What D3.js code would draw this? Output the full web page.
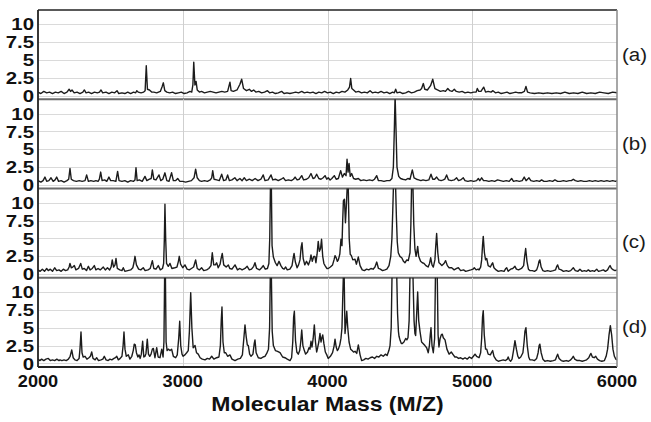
<!DOCTYPE html>
<html>
<head>
<meta charset="utf-8">
<script src="https://cdn.jsdelivr.net/npm/d3@7"></script>
<style>
  body { margin: 0; background: #fff; }
  svg { display: block; }
</style>
</head>
<body>
<div id="chart"></div>
<script>
// tick values / labels
const xTicks = [2000, 3000, 4000, 5000, 6000];
const yTicks = [0, 2.5, 5, 7.5, 10];
const yTickLabels = ["0", "2.5", "5", "7.5", "10"];
const panelLabels = ["(a)", "(b)", "(c)", "(d)"];
const xTitle = "Molecular Mass (M/Z)";

// spectra, [mass, intensity]
const specA = [[2000,0.5],[2020,0.3],[2040,0.6],[2060,0.4],[2080,0.5],[2100,0.3],[2120,0.5],[2140,0.4],[2160,0.6],[2180,0.3],[2200,0.5],[2215,0.9],[2225,0.6],[2235,0.8],[2250,0.4],[2270,0.5],[2290,0.3],[2310,0.5],[2320,0.8],[2332,0.4],[2350,0.5],[2370,0.3],[2390,0.5],[2410,0.4],[2425,0.5],[2435,0.8],[2447,0.4],[2470,0.5],[2490,0.3],[2510,0.5],[2530,0.4],[2546,0.7],[2558,0.3],[2580,0.4],[2600,0.3],[2620,0.5],[2640,0.3],[2660,0.5],[2675,0.4],[2682,0.7],[2692,0.5],[2712,0.4],[2730,0.5],[2740,0.7],[2748,4.2],[2756,0.9],[2770,0.8],[2785,0.5],[2800,0.5],[2820,0.4],[2845,0.6],[2858,1.3],[2866,1.8],[2876,0.7],[2890,0.5],[2910,0.4],[2930,0.5],[2950,0.3],[2970,0.4],[2990,0.5],[3010,0.3],[3030,0.4],[3050,0.6],[3062,0.5],[3070,1.5],[3076,4.7],[3084,1.5],[3092,2.0],[3100,0.8],[3115,0.5],[3130,0.6],[3150,0.4],[3170,0.5],[3190,0.6],[3210,0.5],[3230,0.4],[3250,0.5],[3270,0.6],[3290,0.5],[3310,0.6],[3320,1.4],[3326,1.9],[3334,0.7],[3350,0.6],[3375,0.8],[3395,1.6],[3407,2.3],[3420,1.0],[3440,0.7],[3460,0.9],[3475,0.6],[3490,0.8],[3505,0.5],[3525,0.6],[3545,0.4],[3565,0.5],[3585,0.7],[3600,0.4],[3620,0.5],[3640,0.3],[3660,0.4],[3683,0.6],[3700,0.3],[3720,0.4],[3740,0.3],[3760,0.4],[3780,0.5],[3800,0.4],[3822,0.6],[3840,0.4],[3860,0.5],[3880,0.4],[3900,0.5],[3920,0.3],[3940,0.5],[3960,0.4],[3980,0.6],[4000,0.4],[4020,0.5],[4040,0.3],[4060,0.5],[4080,0.4],[4100,0.6],[4120,0.5],[4140,0.8],[4152,1.2],[4160,2.4],[4168,1.0],[4180,0.8],[4195,0.5],[4215,0.6],[4235,0.4],[4255,0.5],[4275,0.4],[4294,0.7],[4310,0.4],[4330,0.5],[4350,0.4],[4370,0.6],[4390,0.4],[4410,0.5],[4430,0.3],[4450,0.5],[4462,0.4],[4471,0.9],[4480,0.4],[4500,0.5],[4520,0.3],[4540,0.4],[4560,0.6],[4580,0.4],[4600,0.5],[4620,0.7],[4640,0.8],[4650,1.0],[4662,1.7],[4672,0.9],[4690,0.8],[4712,1.4],[4727,2.3],[4742,1.0],[4760,0.8],[4780,0.6],[4800,0.7],[4815,0.6],[4831,1.0],[4845,0.7],[4860,0.6],[4876,0.9],[4890,0.6],[4910,0.5],[4930,0.6],[4950,0.4],[4970,0.5],[4990,0.4],[5010,0.5],[5027,0.5],[5035,1.0],[5045,0.6],[5060,0.6],[5079,1.2],[5092,0.5],[5110,0.6],[5130,0.5],[5143,0.7],[5160,0.4],[5180,0.5],[5200,0.3],[5220,0.4],[5240,0.5],[5260,0.3],[5280,0.4],[5300,0.5],[5320,0.4],[5340,0.4],[5360,0.6],[5371,1.3],[5382,0.5],[5400,0.4],[5430,0.3],[5460,0.4],[5490,0.3],[5520,0.4],[5550,0.3],[5580,0.4],[5610,0.3],[5640,0.5],[5670,0.3],[5700,0.4],[5730,0.3],[5760,0.5],[5790,0.3],[5820,0.4],[5850,0.3],[5880,0.5],[5910,0.4],[5940,0.3],[5970,0.5],[6000,0.4]];

const specB = [[2000,0.6],[2020,0.4],[2035,0.6],[2048,1.1],[2060,0.5],[2075,0.6],[2090,1.0],[2105,0.5],[2118,0.7],[2129,1.1],[2142,0.5],[2160,0.6],[2180,0.4],[2200,0.6],[2212,0.8],[2221,2.3],[2230,0.8],[2245,0.6],[2265,0.5],[2285,0.6],[2305,0.5],[2325,0.6],[2336,1.4],[2348,0.5],[2365,0.6],[2385,0.5],[2400,0.6],[2415,0.5],[2424,0.8],[2433,1.8],[2443,0.6],[2460,0.7],[2475,0.5],[2490,1.1],[2502,0.6],[2520,0.6],[2538,0.5],[2550,1.9],[2560,0.6],[2580,0.5],[2600,0.6],[2620,0.4],[2640,0.6],[2660,0.5],[2670,0.7],[2677,2.4],[2685,0.6],[2700,0.7],[2720,0.5],[2739,1.2],[2752,0.6],[2770,0.8],[2782,0.9],[2790,2.1],[2800,0.8],[2815,0.7],[2836,1.4],[2848,0.6],[2862,0.8],[2877,1.7],[2890,0.6],[2905,0.5],[2923,1.7],[2935,0.6],[2950,0.6],[2965,0.9],[2980,0.5],[3000,0.5],[3020,0.4],[3040,0.5],[3060,0.6],[3078,1.0],[3089,2.2],[3100,1.0],[3115,0.6],[3130,0.5],[3150,0.6],[3170,0.5],[3190,0.7],[3200,1.0],[3207,2.0],[3216,0.8],[3235,0.7],[3252,0.6],[3269,1.5],[3282,0.6],[3298,0.7],[3310,1.4],[3322,0.6],[3340,0.7],[3360,1.0],[3375,0.6],[3395,0.9],[3410,0.6],[3425,1.0],[3440,0.6],[3460,0.8],[3480,0.6],[3500,0.9],[3520,0.6],[3540,0.8],[3556,1.4],[3568,0.6],[3590,0.7],[3610,1.4],[3622,0.7],[3640,0.8],[3660,0.6],[3680,0.8],[3695,1.0],[3710,0.6],[3730,0.7],[3750,0.6],[3765,0.8],[3776,1.1],[3790,0.7],[3805,0.8],[3822,1.3],[3835,0.7],[3855,0.8],[3870,1.0],[3886,1.6],[3900,0.9],[3912,1.0],[3925,1.5],[3940,0.9],[3955,0.8],[3970,1.0],[3983,1.3],[3995,0.8],[4005,1.0],[4018,0.7],[4030,0.9],[4047,1.3],[4060,0.8],[4075,0.9],[4091,2.0],[4103,1.1],[4116,1.6],[4128,1.3],[4135,3.6],[4142,1.8],[4149,3.0],[4157,1.2],[4167,1.6],[4180,0.9],[4195,0.8],[4213,0.9],[4230,0.6],[4250,0.7],[4270,0.6],[4290,0.7],[4310,0.6],[4325,0.8],[4340,1.3],[4352,0.6],[4370,0.6],[4390,0.5],[4410,0.6],[4430,0.6],[4445,0.9],[4455,2.5],[4462,8.0],[4467,12.6],[4473,8.0],[4480,2.5],[4492,1.2],[4505,0.9],[4520,0.8],[4540,0.7],[4555,0.9],[4570,0.8],[4586,2.1],[4598,1.0],[4615,0.8],[4630,0.7],[4645,0.6],[4660,0.7],[4680,0.6],[4700,0.7],[4715,1.5],[4727,0.8],[4740,0.8],[4754,1.1],[4768,0.7],[4785,0.6],[4800,0.7],[4810,0.8],[4823,1.4],[4836,0.7],[4855,0.6],[4875,0.7],[4892,1.0],[4905,0.6],[4920,0.7],[4938,1.0],[4950,0.6],[4970,0.5],[4990,0.6],[5010,0.5],[5030,0.6],[5042,0.9],[5052,0.6],[5065,1.0],[5078,0.6],[5095,0.6],[5115,0.5],[5135,0.6],[5155,0.5],[5175,0.7],[5195,0.6],[5215,0.5],[5235,0.6],[5255,0.5],[5272,0.9],[5285,0.5],[5305,0.6],[5325,0.5],[5345,0.6],[5359,1.1],[5372,0.6],[5392,1.0],[5405,0.6],[5425,0.5],[5445,0.6],[5465,0.5],[5479,0.7],[5495,0.5],[5515,0.5],[5535,0.6],[5555,0.5],[5571,0.7],[5590,0.5],[5610,0.5],[5630,0.6],[5650,0.5],[5670,0.6],[5685,0.6],[5698,0.8],[5712,0.6],[5730,0.5],[5750,0.6],[5770,0.5],[5790,0.5],[5810,0.6],[5830,0.5],[5850,0.6],[5870,0.5],[5890,0.6],[5910,0.5],[5930,0.6],[5950,0.5],[5970,0.6],[5990,0.5],[6000,0.6]];

const specC = [[2000,0.6],[2015,0.4],[2030,0.7],[2045,0.4],[2060,0.8],[2071,0.5],[2085,0.7],[2100,0.4],[2115,0.9],[2129,0.5],[2145,0.6],[2160,0.4],[2175,0.7],[2190,0.5],[2205,0.6],[2215,1.0],[2221,1.5],[2230,0.9],[2240,1.0],[2251,1.2],[2262,0.6],[2280,0.8],[2295,1.5],[2306,0.7],[2320,0.8],[2335,0.5],[2348,1.1],[2360,0.6],[2375,0.8],[2389,1.2],[2400,0.6],[2415,0.8],[2430,0.6],[2451,1.0],[2465,0.6],[2480,0.9],[2495,0.6],[2505,1.0],[2513,2.0],[2522,1.0],[2532,1.3],[2539,2.2],[2548,0.8],[2565,0.6],[2580,0.5],[2589,0.9],[2600,0.4],[2620,0.5],[2640,0.6],[2655,0.9],[2663,1.6],[2670,2.5],[2680,1.3],[2695,0.7],[2710,0.6],[2727,0.9],[2740,0.5],[2760,0.6],[2775,0.8],[2782,1.3],[2790,1.9],[2800,0.8],[2815,0.7],[2831,1.2],[2845,0.6],[2860,0.8],[2868,1.5],[2873,5.0],[2877,9.8],[2882,5.0],[2888,1.5],[2900,1.1],[2912,1.5],[2925,0.8],[2945,0.9],[2960,1.0],[2970,1.8],[2976,2.5],[2985,1.4],[3000,0.9],[3015,1.3],[3030,0.7],[3045,0.6],[3060,0.8],[3075,1.0],[3082,1.5],[3089,2.0],[3100,0.8],[3115,0.6],[3130,0.9],[3145,0.5],[3165,0.6],[3180,0.8],[3195,1.2],[3204,3.0],[3214,1.3],[3225,1.3],[3234,1.6],[3245,0.9],[3258,1.4],[3265,2.2],[3273,2.9],[3283,1.3],[3300,1.0],[3315,1.3],[3325,0.8],[3340,0.7],[3361,1.3],[3378,0.6],[3395,0.8],[3410,0.6],[3430,0.8],[3445,1.1],[3460,0.6],[3475,0.7],[3490,1.1],[3499,1.6],[3510,0.8],[3530,0.6],[3545,0.9],[3556,1.2],[3570,0.7],[3585,0.8],[3595,1.5],[3601,5.0],[3606,12.6],[3612,12.6],[3617,4.0],[3626,2.4],[3640,1.6],[3652,1.2],[3665,1.8],[3678,1.2],[3690,0.8],[3700,0.7],[3711,1.0],[3722,0.6],[3740,0.7],[3755,1.2],[3764,2.4],[3769,2.9],[3778,1.7],[3790,0.9],[3800,1.3],[3810,2.0],[3818,3.8],[3824,4.4],[3832,2.2],[3843,1.3],[3855,1.8],[3868,1.3],[3880,2.0],[3886,2.7],[3895,1.8],[3905,2.5],[3913,2.5],[3920,1.6],[3928,2.8],[3936,4.6],[3944,3.2],[3952,3.6],[3959,4.9],[3967,2.5],[3975,1.5],[3983,1.2],[3995,0.8],[4005,0.8],[4020,1.0],[4035,1.3],[4045,2.0],[4052,2.6],[4060,2.3],[4068,1.8],[4075,2.0],[4085,2.8],[4093,4.9],[4100,4.0],[4105,7.5],[4110,10.3],[4117,10.5],[4124,7.2],[4130,9.5],[4137,12.6],[4143,12.6],[4150,5.0],[4157,2.8],[4165,2.6],[4175,2.0],[4190,2.1],[4200,1.4],[4213,2.4],[4225,1.2],[4240,0.6],[4255,0.5],[4270,0.7],[4285,0.6],[4300,0.8],[4315,0.7],[4328,1.0],[4340,1.7],[4352,0.8],[4365,0.7],[4380,0.5],[4397,0.6],[4410,0.7],[4425,1.2],[4437,2.5],[4445,5.0],[4451,9.0],[4456,12.6],[4470,12.6],[4476,8.0],[4482,4.5],[4489,3.0],[4500,2.5],[4513,2.3],[4525,1.8],[4535,1.6],[4548,2.0],[4558,1.9],[4570,3.0],[4576,7.0],[4581,12.6],[4590,12.6],[4596,7.0],[4604,3.5],[4612,2.5],[4618,3.2],[4623,3.9],[4630,2.5],[4643,1.8],[4655,1.6],[4667,1.5],[4680,1.2],[4695,1.0],[4705,1.5],[4713,2.3],[4722,1.3],[4731,1.0],[4742,2.0],[4748,4.0],[4754,5.7],[4762,3.0],[4770,1.6],[4777,1.5],[4790,1.2],[4805,1.5],[4816,1.9],[4828,1.2],[4840,0.9],[4858,0.9],[4875,0.6],[4892,0.8],[4904,0.9],[4920,0.5],[4940,0.6],[4955,0.4],[4973,0.5],[4990,0.6],[5005,0.7],[5014,0.9],[5027,0.6],[5040,0.7],[5047,0.6],[5058,1.0],[5065,2.0],[5071,4.0],[5076,5.3],[5084,3.0],[5092,2.0],[5100,2.2],[5110,1.2],[5125,1.0],[5135,1.4],[5141,1.6],[5150,0.9],[5165,0.6],[5180,0.4],[5200,0.5],[5220,0.4],[5232,0.8],[5238,0.9],[5248,0.4],[5265,0.7],[5280,0.8],[5295,1.1],[5305,0.7],[5320,0.6],[5340,0.8],[5355,1.2],[5362,2.5],[5369,3.6],[5378,1.8],[5388,0.7],[5398,0.5],[5415,0.5],[5430,0.4],[5445,0.6],[5455,1.2],[5461,1.8],[5467,2.0],[5476,1.0],[5488,0.5],[5502,0.4],[5520,0.5],[5540,0.4],[5560,0.5],[5575,0.6],[5584,1.1],[5590,1.3],[5600,0.7],[5615,0.6],[5630,0.4],[5650,0.5],[5665,0.4],[5680,0.5],[5698,0.9],[5712,0.5],[5730,0.4],[5744,0.7],[5758,0.4],[5775,0.5],[5790,0.4],[5802,0.6],[5815,0.4],[5830,0.5],[5845,0.4],[5860,0.7],[5872,0.4],[5890,0.5],[5906,0.6],[5920,0.4],[5935,0.6],[5945,1.0],[5952,1.2],[5962,0.8],[5975,0.6],[5986,0.5],[6000,0.6]];

const specD = [[2000,0.6],[2012,0.4],[2025,0.6],[2040,0.4],[2055,0.6],[2071,0.7],[2085,0.4],[2100,0.5],[2115,0.4],[2130,0.6],[2145,0.4],[2152,0.5],[2165,0.4],[2180,0.5],[2195,0.4],[2210,0.6],[2222,1.0],[2233,1.9],[2243,0.8],[2255,0.5],[2270,0.4],[2284,0.7],[2290,2.0],[2297,4.4],[2304,1.5],[2312,0.9],[2325,1.0],[2338,0.6],[2352,0.8],[2362,1.0],[2371,1.6],[2380,0.7],[2395,0.5],[2405,0.8],[2418,0.4],[2435,0.5],[2448,0.6],[2458,1.0],[2470,0.5],[2485,0.4],[2497,0.6],[2510,0.5],[2525,0.7],[2535,0.8],[2544,1.0],[2555,0.5],[2568,0.7],[2580,1.0],[2588,2.5],[2594,4.4],[2601,2.0],[2610,1.0],[2624,1.2],[2635,0.6],[2648,1.0],[2658,1.8],[2665,2.7],[2672,2.6],[2680,1.5],[2690,0.9],[2698,1.2],[2706,0.7],[2714,1.3],[2723,3.1],[2731,0.9],[2739,1.0],[2746,1.4],[2755,3.4],[2763,1.3],[2772,1.0],[2781,1.3],[2790,2.0],[2797,2.1],[2808,0.8],[2820,2.2],[2830,0.9],[2843,0.8],[2855,2.0],[2864,0.9],[2870,3.0],[2875,12.6],[2880,12.6],[2885,3.0],[2892,1.8],[2900,2.0],[2912,1.8],[2923,2.0],[2935,1.0],[2951,0.8],[2962,1.2],[2972,3.5],[2979,5.9],[2986,2.5],[2995,1.3],[3002,1.0],[3015,1.2],[3027,1.5],[3038,1.8],[3046,4.5],[3055,9.9],[3063,5.0],[3072,2.2],[3085,2.5],[3095,1.5],[3107,1.3],[3120,0.8],[3135,0.6],[3154,0.5],[3170,0.7],[3185,0.6],[3200,1.0],[3215,0.6],[3234,0.8],[3250,0.9],[3260,2.5],[3266,6.0],[3271,7.9],[3278,3.0],[3287,1.5],[3297,1.5],[3310,1.0],[3326,1.2],[3340,0.6],[3361,0.4],[3380,0.6],[3398,0.7],[3412,1.2],[3422,3.5],[3430,5.4],[3438,3.8],[3446,2.6],[3453,2.5],[3462,1.3],[3472,1.0],[3485,1.3],[3494,2.8],[3499,3.3],[3507,1.5],[3522,0.8],[3540,0.7],[3555,0.9],[3568,1.0],[3580,1.4],[3592,2.0],[3600,5.0],[3605,12.6],[3612,12.6],[3618,4.5],[3626,2.5],[3640,1.8],[3655,1.7],[3672,1.5],[3690,0.9],[3706,0.8],[3722,0.6],[3741,0.4],[3752,0.8],[3760,3.0],[3766,6.5],[3771,7.3],[3779,3.2],[3788,1.6],[3798,1.3],[3808,1.8],[3815,3.0],[3822,4.7],[3830,2.5],[3840,1.8],[3849,1.3],[3862,1.6],[3872,2.2],[3879,2.0],[3886,3.1],[3893,2.3],[3901,3.5],[3909,5.4],[3917,3.0],[3925,1.6],[3932,2.2],[3940,3.0],[3948,4.2],[3955,3.0],[3960,3.5],[3967,4.0],[3975,2.8],[3985,1.6],[3995,1.2],[4005,0.7],[4020,1.0],[4035,1.5],[4045,2.4],[4052,3.4],[4060,2.3],[4068,1.8],[4075,2.0],[4085,2.6],[4093,3.5],[4100,5.0],[4105,9.0],[4110,12.6],[4115,12.6],[4121,4.2],[4127,5.5],[4133,7.3],[4140,5.0],[4149,3.0],[4160,2.0],[4170,1.8],[4180,1.6],[4190,1.7],[4202,1.4],[4213,2.6],[4225,1.2],[4236,0.4],[4250,0.5],[4265,0.7],[4280,0.6],[4295,0.8],[4310,0.9],[4325,0.7],[4340,1.0],[4355,0.9],[4370,1.2],[4385,1.0],[4400,1.3],[4412,1.1],[4424,1.8],[4432,2.5],[4440,5.0],[4446,12.6],[4478,12.6],[4484,7.0],[4490,4.5],[4494,3.8],[4502,3.2],[4510,2.8],[4517,2.8],[4528,3.0],[4540,3.5],[4548,3.3],[4556,3.6],[4564,6.0],[4570,12.6],[4590,12.6],[4598,6.0],[4604,4.2],[4609,3.9],[4615,6.5],[4623,10.0],[4630,6.0],[4639,4.5],[4650,3.0],[4660,2.8],[4673,2.5],[4685,2.2],[4696,1.5],[4704,2.5],[4710,4.0],[4715,5.0],[4722,2.5],[4731,1.5],[4740,3.5],[4746,12.6],[4758,12.6],[4764,4.0],[4770,2.3],[4778,3.5],[4786,4.0],[4793,4.1],[4800,3.6],[4812,3.3],[4825,2.0],[4840,1.3],[4855,1.6],[4869,1.2],[4880,0.9],[4892,0.9],[4905,0.7],[4920,0.8],[4935,0.6],[4950,0.8],[4965,0.6],[4980,0.9],[4995,0.7],[5008,1.0],[5019,1.3],[5030,1.0],[5040,0.9],[5047,0.8],[5058,1.5],[5065,3.5],[5071,6.5],[5076,7.4],[5083,4.0],[5092,2.0],[5100,2.0],[5110,1.3],[5125,1.2],[5135,1.6],[5141,1.8],[5150,1.0],[5165,0.5],[5180,0.3],[5195,0.4],[5214,0.5],[5230,0.4],[5242,0.6],[5248,0.9],[5256,0.5],[5265,0.3],[5275,0.6],[5285,1.8],[5295,3.2],[5305,2.0],[5315,1.0],[5323,0.7],[5335,0.9],[5350,1.5],[5358,3.0],[5364,4.5],[5371,5.0],[5380,2.5],[5390,0.9],[5398,0.5],[5415,0.5],[5430,0.4],[5445,0.7],[5455,1.5],[5462,2.5],[5467,2.7],[5476,1.5],[5488,0.6],[5502,0.3],[5520,0.4],[5540,0.3],[5560,0.4],[5575,0.5],[5584,1.0],[5590,1.3],[5600,0.7],[5615,0.4],[5630,0.3],[5650,0.4],[5665,0.3],[5680,0.5],[5692,0.8],[5698,1.0],[5708,0.6],[5725,0.4],[5744,0.4],[5760,0.3],[5775,0.4],[5790,0.5],[5805,0.8],[5814,1.2],[5820,1.4],[5830,0.9],[5842,0.8],[5853,1.0],[5865,0.6],[5880,0.4],[5895,0.3],[5913,0.4],[5925,1.0],[5935,2.0],[5945,4.0],[5954,5.3],[5963,4.0],[5972,2.0],[5982,1.0],[5992,0.6],[6000,0.5]];

const spectra = [specA, specB, specC, specD];

const sizes = {
    width: 651,
    height: 422,
    left: 38,
    right: 617,
    top: 10,
    panelHeight: 89.25
};
// label baselines for (a)..(d)
const labelY = [61, 150, 248, 333];

const svg = d3.select("#chart")
    .append("svg")
    .attr("width", sizes.width)
    .attr("height", sizes.height)
    .style("font-family", "'Liberation Sans', Arial, Helvetica, sans-serif");

const x = d3.scaleLinear()
    .domain([2000, 6000])
    .range([sizes.left, sizes.right]);

const line = d3.line();

spectra.forEach((spec, i) => {
    const top = sizes.top + i * sizes.panelHeight;
    const bottom = top + sizes.panelHeight;

    const y = d3.scaleLinear()
        .domain([-0.5, 12])
        .range([bottom, top]);

    const g = svg.append("g");

    /* horizontal grid */
    g.selectAll(".hgrid")
        .data(yTicks)
        .join("line")
        .attr("x1", sizes.left).attr("x2", sizes.right)
        .attr("y1", d => Math.round(y(d)) + 0.5)
        .attr("y2", d => Math.round(y(d)) + 0.5)
        .attr("stroke", "#dadada")
        .attr("stroke-width", 1);

    /* vertical grid */
    g.selectAll(".vgrid")
        .data(xTicks.slice(1, -1))
        .join("line")
        .attr("x1", d => Math.round(x(d)) + 0.5)
        .attr("x2", d => Math.round(x(d)) + 0.5)
        .attr("y1", top).attr("y2", bottom)
        .attr("stroke", "#cfcfcf")
        .attr("stroke-width", 1);

    svg.append("clipPath")
        .attr("id", "clip" + i)
        .append("rect")
        .attr("x", sizes.left)
        .attr("y", top)
        .attr("width", sizes.right - sizes.left)
        .attr("height", sizes.panelHeight);

    g.append("path")
        .datum(spec)
        .attr("clip-path", `url(#clip${i})`)
        .attr("fill", "none")
        .attr("stroke", "#1c1c1c")
        .attr("stroke-width", 1.4)
        .attr("stroke-linejoin", "round")
        .attr("d", line.x(d => x(d[0])).y(d => y(d[1])));

    /* y tick labels, slightly stretched like the original */
    g.selectAll(".ylab")
        .data(yTicks)
        .join("text")
        .attr("transform", d => `translate(34, ${y(d)}) scale(1.2, 1)`)
        .attr("dy", "0.36em")
        .attr("text-anchor", "end")
        .attr("font-size", "17px")
        .attr("font-weight", "bold")
        .attr("fill", "#111")
        .text((d, k) => yTickLabels[k]);

    /* panel separator */
    g.append("line")
        .attr("x1", sizes.left).attr("x2", sizes.right)
        .attr("y1", bottom).attr("y2", bottom)
        .attr("stroke", i === 3 ? "#222" : "#6a6a6a")
        .attr("stroke-width", 2);

    g.append("text")
        .attr("transform", `translate(622, ${labelY[i]}) scale(1.08, 1)`)
        .attr("font-size", "19px")
        .attr("fill", "#1a1a1a")
        .text(panelLabels[i]);
});

const plotBottom = sizes.top + 4 * sizes.panelHeight;

/* frame */
svg.append("line")
    .attr("x1", sizes.left).attr("x2", sizes.right)
    .attr("y1", sizes.top).attr("y2", sizes.top)
    .attr("stroke", "#222").attr("stroke-width", 1.5);
svg.append("line")
    .attr("x1", sizes.left).attr("x2", sizes.left)
    .attr("y1", sizes.top).attr("y2", plotBottom)
    .attr("stroke", "#222").attr("stroke-width", 1.8);
svg.append("line")
    .attr("x1", sizes.right).attr("x2", sizes.right)
    .attr("y1", sizes.top).attr("y2", plotBottom)
    .attr("stroke", "#8a8a8a").attr("stroke-width", 1.5);

/* x tick labels */
svg.selectAll(".xlab")
    .data(xTicks)
    .join("text")
    .attr("transform", d => `translate(${x(d)}, 387) scale(1.07, 1)`)
    .attr("text-anchor", "middle")
    .attr("font-size", "17px")
    .attr("font-weight", "bold")
    .attr("fill", "#111")
    .text(d => d);

svg.append("text")
    .attr("transform", `translate(${(sizes.left + sizes.right) / 2}, 411) scale(1.15, 1)`)
    .attr("text-anchor", "middle")
    .attr("font-size", "20px")
    .attr("font-weight", "bold")
    .attr("fill", "#111")
    .text(xTitle);
</script>
</body>
</html>
